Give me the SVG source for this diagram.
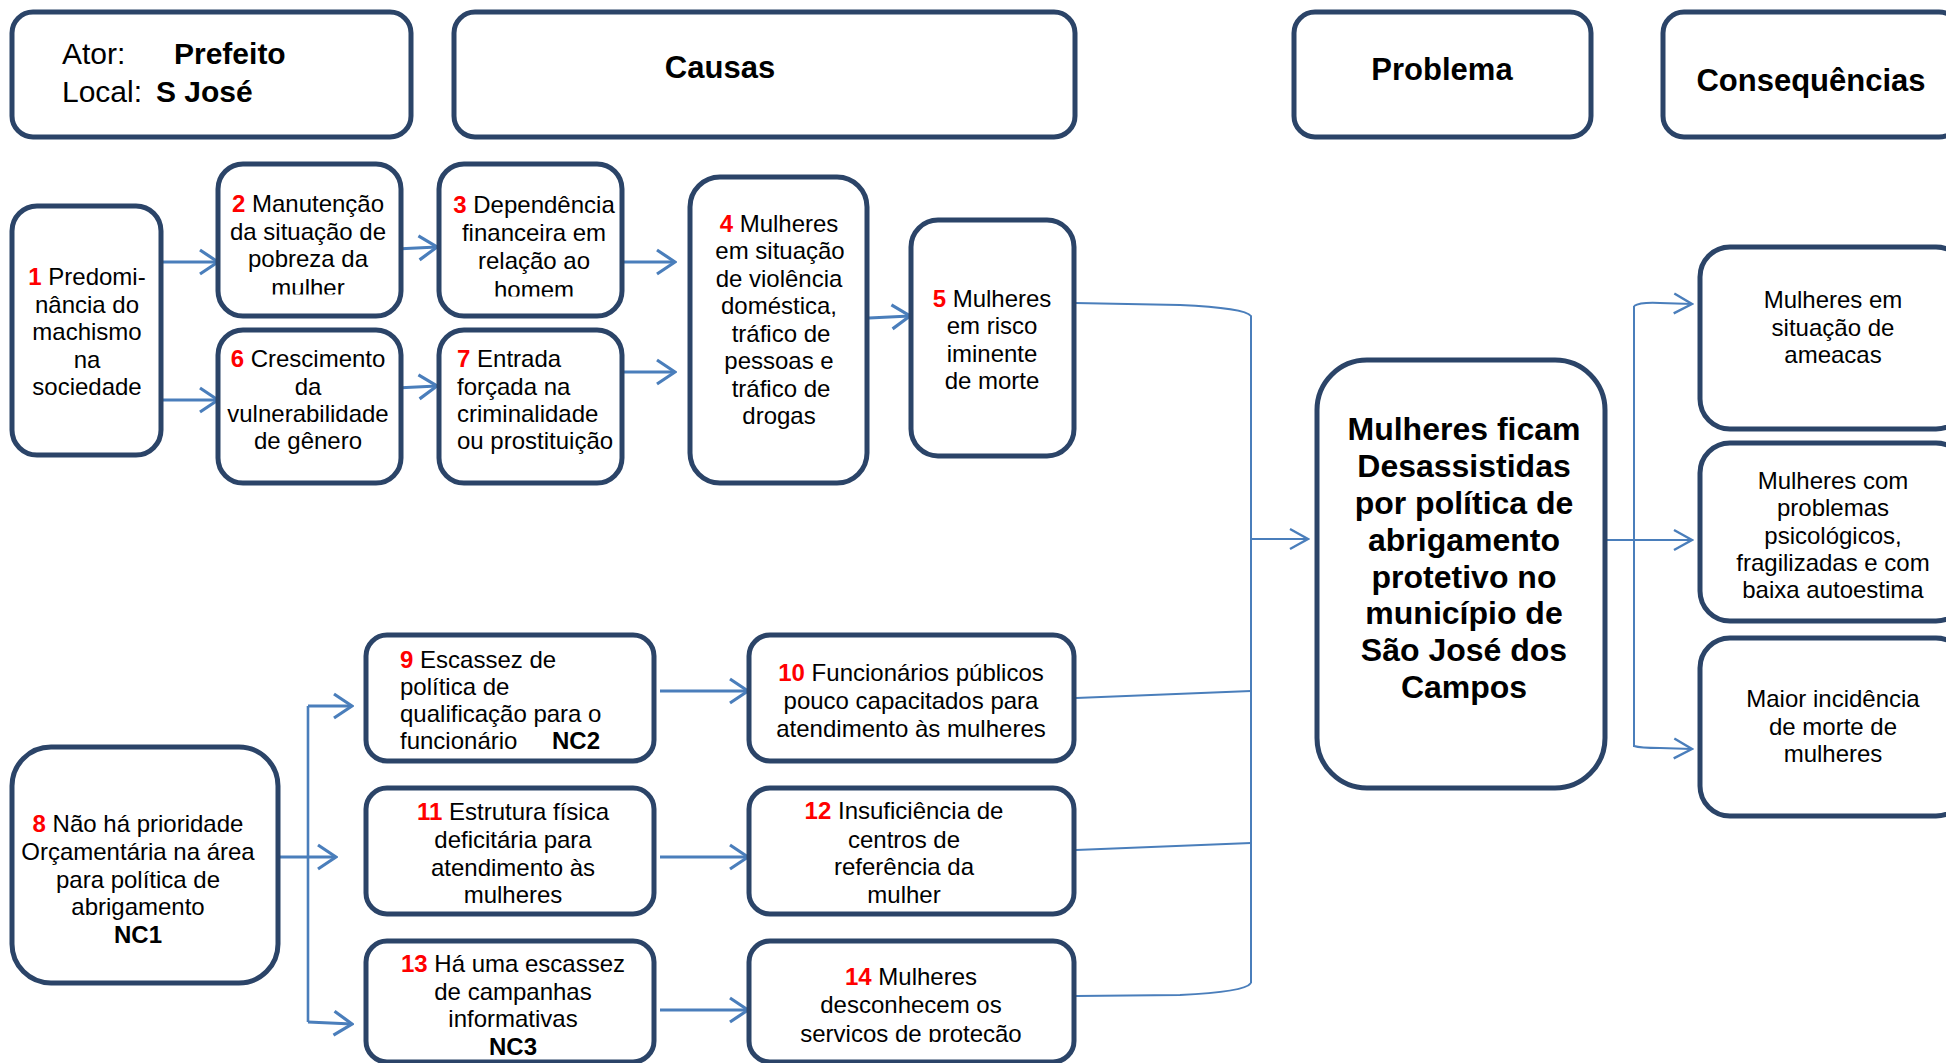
<svg xmlns="http://www.w3.org/2000/svg" width="1946" height="1063" viewBox="0 0 1946 1063">
<style>
.b{fill:#fff;stroke:#2b4468;stroke-width:5}
text{font-family:"Liberation Sans",Arial,sans-serif;fill:#000}
.t{font-size:24px;text-anchor:middle}
.l{font-size:24px;text-anchor:start}
.n{fill:#ff0000;font-weight:bold}
.bd{font-weight:bold}
.h{font-size:31px;font-weight:bold;text-anchor:middle}
.p{font-size:32px;font-weight:bold;text-anchor:middle}
.a{fill:none;stroke:#4a7ebb;stroke-width:3.2;marker-end:url(#ah)}
.a2{fill:none;stroke:#4a7ebb;stroke-width:2;marker-end:url(#ah2)}
.ln{fill:none;stroke:#4a7ebb;stroke-width:2}
.ln3{fill:none;stroke:#4a7ebb;stroke-width:2.6}
</style>
<defs>
<marker id="ah" markerUnits="userSpaceOnUse" markerWidth="22" markerHeight="28" viewBox="0 0 22 28" refX="20" refY="14" orient="auto"><path d="M2,2 L20,14 L2,26" fill="none" stroke="#4a7ebb" stroke-width="3.2"/></marker>
<marker id="ah2" markerUnits="userSpaceOnUse" markerWidth="22" markerHeight="26" viewBox="0 0 22 26" refX="20" refY="13" orient="auto"><path d="M2,3 L20,13 L2,23" fill="none" stroke="#4a7ebb" stroke-width="2.4"/></marker>
<clipPath id="c2"><rect x="218" y="164" width="183" height="130.5"/></clipPath>
<clipPath id="c3"><rect x="439" y="164" width="183" height="132.5"/></clipPath>
<clipPath id="c14"><rect x="749" y="941" width="325" height="101"/></clipPath>
</defs>
<rect width="1946" height="1063" fill="#fff"/>

<g id="connectors">
<path class="a" d="M161,262 L218,262"/>
<path class="a" d="M161,400 L218,400"/>
<path class="a" d="M396,249 L437,247"/>
<path class="a" d="M396,388 L437,386"/>
<path class="a" d="M620,262 L675,262"/>
<path class="a" d="M620,372 L675,372"/>
<path class="a" d="M869,318 L910,316"/>
<path class="a" d="M278,857 L336,857"/>
<path class="ln3" d="M308,1022 L308,706"/>
<path class="a" d="M308,706 L352,706"/>
<path class="a" d="M308,1022 L352,1024"/>
<path class="a" d="M660,691 L748,691"/>
<path class="a" d="M660,857 L748,857"/>
<path class="a" d="M660,1010 L748,1010"/>
<path class="ln" d="M1075,303 L1180,305 Q1245,308 1251,316 L1251,983"/>
<path class="ln" d="M1076,698 L1251,691"/>
<path class="ln" d="M1076,850 L1251,843"/>
<path class="ln" d="M1076,996 L1180,995 Q1245,992 1251,983"/>
<path class="a2" d="M1251,539 L1308,539"/>
<path class="a2" d="M1605,540 L1692,540"/>
<path class="ln" d="M1634,747 L1634,306"/>
<path class="a2" d="M1634,306 Q1640,302 1660,303 L1692,304"/>
<path class="a2" d="M1634,746 Q1640,748 1660,748 L1692,749"/>
</g>

<g id="ator">
<rect class="b" x="12" y="12" width="399" height="125" rx="21"/>
<text x="62" y="64" font-size="30">Ator:</text>
<text x="174" y="64" font-size="30" class="bd">Prefeito</text>
<text x="62" y="102" font-size="30">Local:</text>
<text x="156" y="102" font-size="30" class="bd">S José</text>
</g>
<g id="causas">
<rect class="b" x="454" y="12" width="621" height="125" rx="21"/>
<text class="h" x="720" y="78">Causas</text>
</g>
<g id="problema">
<rect class="b" x="1294" y="12" width="297" height="125" rx="21"/>
<text class="h" x="1442" y="80">Problema</text>
</g>
<g id="consequencias">
<rect class="b" x="1663" y="12" width="297" height="125" rx="21"/>
<text class="h" x="1811" y="91">Consequências</text>
</g>

<g id="n1">
<rect class="b" x="12" y="206" width="149" height="249" rx="25"/>
<text class="t" x="87" y="285"><tspan class="n">1</tspan> Predomi-</text>
<text class="t" x="87" y="313">nância do</text>
<text class="t" x="87" y="340">machismo</text>
<text class="t" x="87" y="368">na</text>
<text class="t" x="87" y="395">sociedade</text>
</g>
<g id="n2">
<rect class="b" x="218" y="164" width="183" height="152" rx="25"/>
<g clip-path="url(#c2)">
<text class="t" x="308" y="212"><tspan class="n">2</tspan> Manutenção</text>
<text class="t" x="308" y="240">da situação de</text>
<text class="t" x="308" y="267">pobreza da</text>
<text class="t" x="308" y="296">mulher</text>
</g>
</g>
<g id="n3">
<rect class="b" x="439" y="164" width="183" height="152" rx="25"/>
<g clip-path="url(#c3)">
<text class="t" x="534" y="213"><tspan class="n">3</tspan> Dependência</text>
<text class="t" x="534" y="241">financeira em</text>
<text class="t" x="534" y="269">relação ao</text>
<text class="t" x="534" y="298">homem</text>
</g>
</g>
<g id="n6">
<rect class="b" x="218" y="330" width="183" height="153" rx="25"/>
<text class="t" x="308" y="367"><tspan class="n">6</tspan> Crescimento</text>
<text class="t" x="308" y="395">da</text>
<text class="t" x="308" y="422">vulnerabilidade</text>
<text class="t" x="308" y="449">de gênero</text>
</g>
<g id="n7">
<rect class="b" x="439" y="330" width="183" height="153" rx="25"/>
<text class="l" x="457" y="367"><tspan class="n">7</tspan> Entrada</text>
<text class="l" x="457" y="395">forçada na</text>
<text class="l" x="457" y="422">criminalidade</text>
<text class="l" x="457" y="449">ou prostituição</text>
</g>
<g id="n4">
<rect class="b" x="690" y="177" width="177" height="306" rx="30"/>
<text class="t" x="779" y="232"><tspan class="n">4</tspan> Mulheres</text>
<text class="t" x="780" y="259">em situação</text>
<text class="t" x="779" y="287">de violência</text>
<text class="t" x="779" y="314">doméstica,</text>
<text class="t" x="781" y="342">tráfico de</text>
<text class="t" x="779" y="369">pessoas e</text>
<text class="t" x="781" y="397">tráfico de</text>
<text class="t" x="779" y="424">drogas</text>
</g>
<g id="n5">
<rect class="b" x="911" y="220" width="163" height="236" rx="27"/>
<text class="t" x="992" y="307"><tspan class="n">5</tspan> Mulheres</text>
<text class="t" x="992" y="334">em risco</text>
<text class="t" x="992" y="362">iminente</text>
<text class="t" x="992" y="389">de morte</text>
</g>

<g id="problem">
<rect class="b" x="1317" y="360" width="288" height="428" rx="50"/>
<text class="p" x="1464" y="440">Mulheres ficam</text>
<text class="p" x="1464" y="477">Desassistidas</text>
<text class="p" x="1464" y="514">por política de</text>
<text class="p" x="1464" y="551">abrigamento</text>
<text class="p" x="1464" y="588">protetivo no</text>
<text class="p" x="1464" y="624">município de</text>
<text class="p" x="1464" y="661">São José dos</text>
<text class="p" x="1464" y="698">Campos</text>
</g>

<g id="c1">
<rect class="b" x="1700" y="247" width="266" height="182" rx="30"/>
<text class="t" x="1833" y="308">Mulheres em</text>
<text class="t" x="1833" y="336">situação de</text>
<text class="t" x="1833" y="363">ameacas</text>
</g>
<g id="c2box">
<rect class="b" x="1700" y="443" width="266" height="178" rx="30"/>
<text class="t" x="1833" y="489">Mulheres com</text>
<text class="t" x="1833" y="516">problemas</text>
<text class="t" x="1833" y="544">psicológicos,</text>
<text class="t" x="1833" y="571">fragilizadas e com</text>
<text class="t" x="1833" y="598">baixa autoestima</text>
</g>
<g id="c3box">
<rect class="b" x="1700" y="638" width="266" height="178" rx="30"/>
<text class="t" x="1833" y="707">Maior incidência</text>
<text class="t" x="1833" y="735">de morte de</text>
<text class="t" x="1833" y="762">mulheres</text>
</g>

<g id="n8">
<rect class="b" x="12" y="747" width="266" height="236" rx="39"/>
<text class="t" x="138" y="832"><tspan class="n">8</tspan> Não há prioridade</text>
<text class="t" x="138" y="860">Orçamentária na área</text>
<text class="t" x="138" y="888">para política de</text>
<text class="t" x="138" y="915">abrigamento</text>
<text class="t bd" x="138" y="943">NC1</text>
</g>
<g id="n9">
<rect class="b" x="366" y="635" width="288" height="126" rx="21"/>
<text class="l" x="400" y="668"><tspan class="n">9</tspan> Escassez de</text>
<text class="l" x="400" y="695">política de</text>
<text class="l" x="400" y="722">qualificação para o</text>
<text class="l" x="400" y="749">funcionário</text>
<text class="l bd" x="552" y="749">NC2</text>
</g>
<g id="n11">
<rect class="b" x="366" y="788" width="288" height="126" rx="21"/>
<text class="t" x="513" y="820"><tspan class="n">11</tspan> Estrutura física</text>
<text class="t" x="513" y="848">deficitária para</text>
<text class="t" x="513" y="876">atendimento às</text>
<text class="t" x="513" y="903">mulheres</text>
</g>
<g id="n13">
<rect class="b" x="366" y="941" width="288" height="121" rx="21"/>
<text class="t" x="513" y="972"><tspan class="n">13</tspan> Há uma escassez</text>
<text class="t" x="513" y="1000">de campanhas</text>
<text class="t" x="513" y="1027">informativas</text>
<text class="t bd" x="513" y="1055">NC3</text>
</g>
<g id="n10">
<rect class="b" x="749" y="635" width="325" height="126" rx="21"/>
<text class="t" x="911" y="681"><tspan class="n">10</tspan> Funcionários públicos</text>
<text class="t" x="911" y="709">pouco capacitados para</text>
<text class="t" x="911" y="737">atendimento às mulheres</text>
</g>
<g id="n12">
<rect class="b" x="749" y="788" width="325" height="126" rx="21"/>
<text class="t" x="904" y="819"><tspan class="n">12</tspan> Insuficiência de</text>
<text class="t" x="904" y="848">centros de</text>
<text class="t" x="904" y="875">referência da</text>
<text class="t" x="904" y="903">mulher</text>
</g>
<g id="n14">
<rect class="b" x="749" y="941" width="325" height="121" rx="21"/>
<g clip-path="url(#c14)">
<text class="t" x="911" y="985"><tspan class="n">14</tspan> Mulheres</text>
<text class="t" x="911" y="1013">desconhecem os</text>
<text class="t" x="911" y="1042">serviços de proteção</text>
</g>
</g>
</svg>
